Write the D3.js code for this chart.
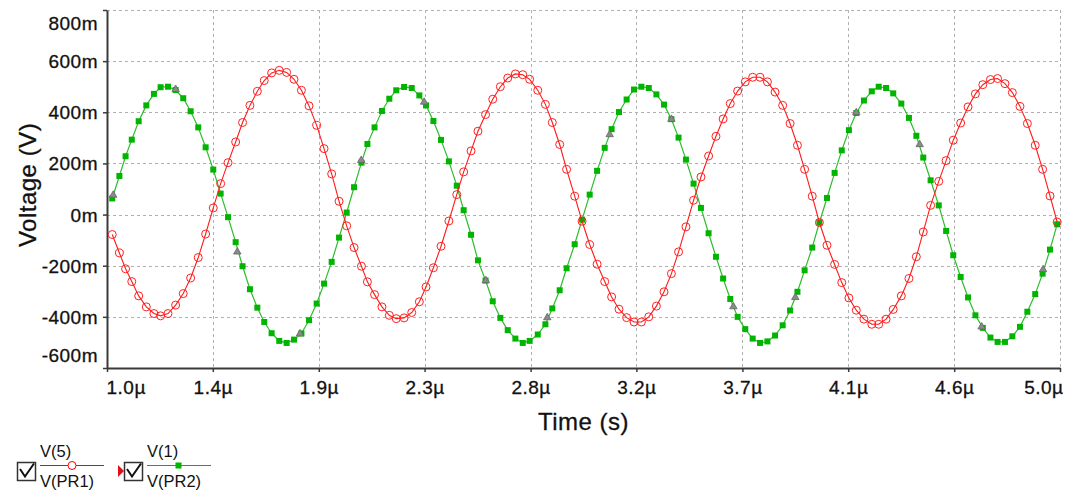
<!DOCTYPE html>
<html>
<head>
<title>V(5) / V(1) transient</title>
<style>
    body { margin: 0; background: #fff; }
    svg { font-family: "Liberation Sans", Arial, sans-serif; }
    .grid line { stroke: #b0b0b0; stroke-dasharray: 3,3; stroke-width: 1; }
</style>
<script src="https://d3js.org/d3.v7.min.js"></script>
</head>
<body>
<script>
// sample times (µs) of the plotted points
var time = [1.022,1.052,1.078,1.104,1.133,1.165,1.197,1.225,1.256,1.288,1.320,1.351,1.383,1.414,1.446,1.477,1.508,1.540,1.569,1.600,1.631,1.660,1.691,1.723,1.754,1.785,1.816,1.848,1.880,1.911,1.943,1.974,
    2.006,2.037,2.068,2.093,2.123,2.154,2.185,2.214,2.247,2.279,2.311,2.339,2.370,2.402,2.435,2.468,2.497,2.528,2.557,2.589,2.619,2.651,2.682,2.714,2.745,2.774,2.808,2.840,2.869,2.900,2.929,2.963,2.994,
    3.026,3.057,3.089,3.118,3.149,3.181,3.212,3.243,3.274,3.306,3.338,3.369,3.399,3.430,3.462,3.493,3.525,3.556,3.586,3.616,3.647,3.679,3.710,3.741,3.772,3.804,3.836,3.867,3.898,3.928,3.960,3.990,
    4.022,4.054,4.084,4.114,4.145,4.177,4.210,4.239,4.270,4.300,4.334,4.366,4.397,4.426,4.457,4.491,4.522,4.552,4.583,4.614,4.645,4.676,4.708,4.738,4.769,4.800,4.832,4.863,4.896,4.927,4.958,4.988];

// V(5) in mV (red, circles)
var v5 = [-78,-150,-212,-262,-318,-361,-387,-396,-387,-354,-309,-248,-168,-76,26,121,203,284,360,427,482,524,554,564,556,529,486,425,349,258,159,52,
    -44,-129,-202,-263,-313,-361,-394,-407,-404,-383,-341,-283,-208,-124,-25,78,167,249,326,391,451,500,534,550,547,529,486,431,360,274,177,72,-26,
    -117,-194,-262,-322,-370,-403,-420,-420,-400,-358,-302,-231,-146,-48,56,147,229,306,374,434,483,519,537,537,519,479,427,356,271,177,72,-31,
    -120,-195,-266,-326,-374,-409,-429,-429,-409,-371,-318,-250,-165,-68,36,130,211,291,358,421,472,508,528,532,512,477,423,356,271,177,73,-29];

// V(1) in mV (green, squares)
var v1 = [63,151,228,293,365,427,472,498,500,487,455,404,341,263,176,82,-10,-108,-202,-292,-364,-420,-464,-494,-502,-489,-465,-413,-348,-270,-185,-90,
    8,107,203,276,341,405,453,486,499,495,466,427,366,292,208,113,17,-79,-179,-258,-339,-404,-452,-485,-502,-494,-469,-429,-367,-296,-210,-116,-20,
    78,171,261,334,401,450,489,500,495,470,430,373,301,215,121,26,-73,-165,-250,-330,-400,-448,-485,-502,-496,-473,-433,-375,-302,-218,-129,-31,
    65,163,251,330,397,446,482,500,495,474,434,378,308,223,134,36,-64,-159,-244,-324,-394,-443,-481,-498,-498,-476,-439,-380,-311,-231,-137,-38];

// grey triangle markers sitting on the green trace
var triTime = [1.026,1.288,1.547,1.810,2.067,2.331,2.590,2.848,3.110,3.369,3.629,3.889,4.145,4.411,4.671,4.929];
var triVal = [76,490,-146,-466,212,440,-258,-403,313,373,-360,-324,399,274,-439,-215];

var xTicks = [1.0, 1.444, 1.889, 2.333, 2.778, 3.222, 3.667, 4.111, 4.556, 5.0];
var xTickLabels = ["1.0µ","1.4µ","1.9µ","2.3µ","2.8µ","3.2µ","3.7µ","4.1µ","4.6µ","5.0µ"];
var yTicks = [-600, -400, -200, 0, 200, 400, 600, 800];
var yTickLabels = ["-600m","-400m","-200m","0m","200m","400m","600m","800m"];

var width = 1067, height = 494;
var plotL = 107, plotR = 1060, plotT = 10, plotB = 368;

var svg = d3.select("body").append("svg")
    .attr("width", width)
    .attr("height", height);

var x = d3.scaleLinear().domain([1, 5]).range([plotL, plotR]);
var y = d3.scaleLinear().domain([-600, 800]).range([plotB, plotT]);

// dashed grid
var grid = svg.append("g").attr("class", "grid");
grid.selectAll(".h").data(yTicks).enter().append("line")
    .attr("x1", plotL).attr("x2", plotR)
    .attr("y1", function(d){ return Math.round(y(d)) + 0.5; })
    .attr("y2", function(d){ return Math.round(y(d)) + 0.5; });
grid.selectAll(".v").data(xTicks.slice(1)).enter().append("line")
    .attr("y1", plotT).attr("y2", plotB)
    .attr("x1", function(d){ return Math.round(x(d)) + 0.5; })
    .attr("x2", function(d){ return Math.round(x(d)) + 0.5; });

// axes
var yAxis = svg.append("g")
    .attr("transform", "translate(" + plotL + ",0)")
    .call(d3.axisLeft(y).tickValues(yTicks).tickSize(4).tickSizeOuter(0).tickPadding(5)
        .tickFormat(function(d, i){ return yTickLabels[i]; }));
var xAxis = svg.append("g")
    .attr("transform", "translate(0," + plotB + ")")
    .call(d3.axisBottom(x).tickValues(xTicks).tickSize(4).tickSizeOuter(0).tickPadding(9)
        .tickFormat(function(d, i){ return xTickLabels[i]; }));

[yAxis, xAxis].forEach(function(a){
    a.select(".domain").attr("stroke", "#3a3a3a").attr("stroke-width", 2);
    a.selectAll(".tick line").attr("stroke", "#3a3a3a").attr("stroke-width", 1.5);
    a.selectAll("text").attr("fill", "#111").style("font-size", "19px")
        .attr("stroke", "#111").attr("stroke-width", 0.3)
        .style("font-family", "'Liberation Sans', Arial, sans-serif").style("letter-spacing", "0.5px");
});
// end labels are kept inside the plot frame
yAxis.selectAll(".tick text").attr("dy", function(d){
    if (d == 800) return "1.0em";
    if (d == -600) return "-0.32em";
    return "0.34em";
});
xAxis.selectAll(".tick text").attr("text-anchor", function(d, i){
    if (i == 0) return "start";
    if (i == xTicks.length - 1) return "end";
    return "middle";
}).attr("dx", function(d, i){ return i == 0 ? -1 : (i == xTicks.length - 1 ? 3 : 0); });

// axis titles
svg.append("text")
    .attr("x", (plotL + plotR) / 2).attr("y", 430)
    .attr("text-anchor", "middle")
    .style("font-size", "24px").style("letter-spacing", "0.5px").attr("fill", "#111")
    .attr("stroke", "#111").attr("stroke-width", 0.3)
    .text("Time (s)");
svg.append("text")
    .attr("transform", "translate(36,185) rotate(-90)")
    .attr("text-anchor", "middle")
    .style("font-size", "24px").style("letter-spacing", "0.5px").attr("fill", "#111")
    .attr("stroke", "#111").attr("stroke-width", 0.3)
    .text("Voltage (V)");

var plot = svg.append("g");
var pts = time.map(function(t, i){ return {t: t, a: v5[i], b: v1[i]}; });

var lineA = d3.line().x(function(d){ return x(d.t); }).y(function(d){ return y(d.a); });
var lineB = d3.line().x(function(d){ return x(d.t); }).y(function(d){ return y(d.b); });

plot.append("path").datum(pts).attr("d", lineB)
    .attr("fill", "none").attr("stroke", "#2cbd2c").attr("stroke-width", 1.2);
plot.selectAll(".sq").data(pts).enter().append("rect")
    .attr("x", function(d){ return x(d.t) - 3; })
    .attr("y", function(d){ return y(d.b) - 3; })
    .attr("width", 6).attr("height", 6)
    .attr("fill", "#00b400");

// grey triangles
plot.selectAll(".tri").data(triTime).enter().append("path")
    .attr("d", d3.symbol().type(d3.symbolTriangle).size(24))
    .attr("transform", function(d, i){ return "translate(" + x(d) + "," + y(triVal[i]) + ")"; })
    .attr("fill", "#8a8a8a").attr("stroke", "#666").attr("stroke-width", 0.8);

plot.append("path").datum(pts).attr("d", lineA)
    .attr("fill", "none").attr("stroke", "#ff1a1a").attr("stroke-width", 1.1);
plot.selectAll(".ci").data(pts).enter().append("circle")
    .attr("cx", function(d){ return x(d.t); })
    .attr("cy", function(d){ return y(d.a); })
    .attr("r", 4)
    .attr("fill", "none").attr("stroke", "#ff2020").attr("stroke-width", 1);

// legend
var legend = [
    {name: "V(5)", probe: "V(PR1)", color: "#ff0000", x0: 17, mark: "circle"},
    {name: "V(1)", probe: "V(PR2)", color: "#00b400", x0: 124, mark: "square"}
];
var lg = svg.selectAll(".lg").data(legend).enter().append("g")
    .attr("transform", function(d){ return "translate(" + d.x0 + ",0)"; });
lg.append("rect").attr("x", 0.5).attr("y", 462.5).attr("width", 18).attr("height", 18)
    .attr("fill", "#fff").attr("stroke", "#333").attr("stroke-width", 1.5);
lg.append("path").attr("d", "M3,469 L8,476.5 L17,463.5")
    .attr("fill", "none").attr("stroke", "#111").attr("stroke-width", 2);
lg.append("line").attr("x1", 23).attr("x2", 87).attr("y1", 465.5).attr("y2", 465.5)
    .attr("stroke", function(d){ return d.color; }).attr("stroke-width", 1.2);
lg.filter(function(d){ return d.mark == "circle"; }).append("circle")
    .attr("cx", 55).attr("cy", 465.5).attr("r", 4)
    .attr("fill", "#fff").attr("stroke", "#ff0000");
lg.filter(function(d){ return d.mark == "square"; }).append("rect")
    .attr("x", 51.5).attr("y", 462.5).attr("width", 6).attr("height", 6)
    .attr("fill", "#00b400");
lg.append("text").attr("x", 23).attr("y", 457).text(function(d){ return d.name; })
    .style("font-size", "16.5px").attr("fill", "#111");
lg.append("text").attr("x", 23).attr("y", 487).text(function(d){ return d.probe; })
    .style("font-size", "16.5px").attr("fill", "#111");
svg.append("path").attr("d", "M118,465 L124,471 L118,477 Z").attr("fill", "#e0101a");
</script>
</body>
</html>
